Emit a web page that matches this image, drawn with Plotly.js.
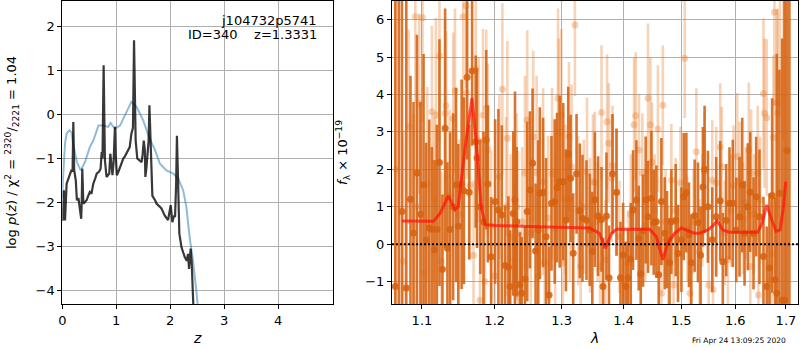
<!DOCTYPE html>
<html><head><meta charset="utf-8">
<script src="https://cdn.plot.ly/plotly-3.0.1.min.js"></script>
<style>html,body{margin:0;padding:0;background:#fff}#chart{width:800px;height:350px}</style>
</head><body><div id="chart"></div>
<script>
// ---- left panel: log p(z) ----
const zBlue = [0.0, 0.007, 0.05, 0.08, 0.13, 0.17, 0.2, 0.27, 0.34, 0.42, 0.51, 0.575, 0.67, 0.76, 0.85, 0.895, 0.94, 0.976, 1.07, 1.19, 1.28, 1.38, 1.50, 1.62, 1.72, 1.81, 1.93, 2.06, 2.15, 2.24, 2.30, 2.36, 2.43, 2.49, 2.52, 2.56];
const lpBlue = [-1.9, -1.57, -0.66, -0.43, -0.36, -0.4, -0.66, -1.08, -1.27, -1.08, -0.74, -0.59, -0.25, -0.25, -0.28, -0.19, -0.27, -0.32, -0.25, 0.06, 0.29, 0.17, -0.13, -0.55, -0.81, -1.12, -1.27, -1.34, -1.46, -1.72, -2.10, -2.78, -3.39, -4.07, -4.38, -5.0];

const zDark = [0.0, 0.007, 0.03, 0.05, 0.08, 0.14, 0.17, 0.19, 0.204, 0.22, 0.25, 0.27, 0.30, 0.32, 0.35, 0.36, 0.37, 0.39, 0.42, 0.45, 0.48, 0.51, 0.54, 0.575, 0.61, 0.64, 0.68, 0.71, 0.73, 0.745, 0.766, 0.78, 0.79, 0.82, 0.85, 0.87, 0.89, 0.91, 0.93, 0.95, 0.96, 0.976, 0.99, 1.01, 1.04, 1.07, 1.10, 1.13, 1.16, 1.19, 1.22, 1.25, 1.28, 1.31, 1.33, 1.35, 1.36, 1.39, 1.43, 1.47, 1.49, 1.51, 1.53, 1.54, 1.56, 1.58, 1.60, 1.615, 1.63, 1.645, 1.67, 1.72, 1.75, 1.81, 1.84, 1.90, 1.96, 2.01, 2.04, 2.07, 2.09, 2.11, 2.125, 2.14, 2.17, 2.21, 2.27, 2.31, 2.33, 2.35, 2.38, 2.40, 2.42, 2.44, 2.45];
const lpDark = [-2.4, -2.41, -1.72, -2.41, -1.57, -1.34, -1.26, -1.3, -0.17, -1.26, -1.5, -1.95, -1.9, -2.1, -2.37, -2.0, -1.23, -2.03, -2.0, -1.95, -1.85, -1.76, -1.8, -1.57, -1.45, -1.34, -1.3, -1.23, -0.85, -1.0, 1.12, -0.5, -1.04, -1.42, -1.38, -1.34, -0.89, -1.2, -1.38, -1.1, -0.89, -0.28, -0.9, -1.38, -1.3, -1.19, -1.1, -1.0, -0.95, -0.89, -0.8, -0.74, -0.44, -0.3, 1.69, -0.2, -0.59, -1.0, -1.05, -1.08, -0.9, -0.59, -0.8, -1.42, -1.2, -0.97, -0.6, 0.21, -0.5, -1.26, -1.85, -1.95, -2.03, -2.1, -2.14, -2.3, -2.4, -2.06, -2.45, -2.3, -2.33, -1.6, -0.48, -1.2, -2.71, -3.02, -3.24, -3.33, -3.17, -3.51, -3.05, -3.40, -3.9, -4.4, -5.0];

// ---- right panel: spectrum ----
const lamD = [1.0655, 1.0700, 1.0740, 1.0796, 1.0850, 1.0890, 1.0934, 1.0980, 1.1021, 1.1056, 1.1096, 1.1131, 1.1166, 1.1198, 1.1233, 1.1273, 1.1309, 1.1340, 1.1377, 1.1418, 1.1458, 1.1489, 1.1535, 1.1566, 1.1611, 1.1639, 1.1680, 1.1731, 1.1749, 1.1796, 1.1840, 1.1879, 1.1902, 1.1949, 1.2006, 1.2053, 1.2102, 1.2150, 1.2198, 1.2222, 1.2270, 1.2295, 1.2320, 1.2368, 1.2393, 1.2442, 1.2476, 1.2516, 1.2556, 1.2601, 1.2640, 1.2665, 1.2715, 1.2760, 1.2806, 1.2843, 1.2893, 1.2929, 1.2970, 1.3025, 1.3067, 1.3103, 1.3140, 1.3181, 1.3234, 1.3286, 1.3328, 1.3392, 1.3444, 1.3486, 1.3527, 1.3579, 1.3635, 1.3660, 1.3716, 1.3758, 1.3816, 1.3882, 1.3948, 1.3992, 1.4037, 1.4075, 1.4120, 1.4159, 1.4216, 1.4255, 1.4290, 1.4329, 1.4375, 1.4415, 1.4473, 1.4513, 1.4560, 1.4600, 1.4647, 1.4705, 1.4746, 1.4790, 1.4823, 1.4900, 1.4941, 1.5002, 1.5043, 1.5091, 1.5138, 1.5181, 1.5242, 1.5302, 1.5350, 1.5393, 1.5424, 1.5485, 1.5566, 1.5640, 1.5715, 1.5763, 1.5828, 1.5890, 1.5953, 1.6019, 1.6082, 1.6134, 1.6179, 1.6242, 1.6289, 1.6353, 1.6405, 1.6470, 1.6549, 1.6614, 1.6668, 1.6722, 1.6782, 1.6814, 1.6868, 1.6923, 1.6970, 1.7020, 1.7070];
const fD = [-1.13, -1.9, 0.87, -1.17, 1.2, 0.3, 1.9, 0.8, 1.58, 0.11, 0.43, 0.4, -0.15, 0.39, 2.18, -0.67, 3.1, -0.11, 0.39, 1.0, 1.58, 0.48, 1.6, 1.43, 4.46, 1.39, 4.63, 2.74, 2.3, 1.0, 0.6, 2.79, 1.61, -0.34, 1.14, 0.91, 0.78, -0.57, -0.62, -1.13, 0.82, 1.18, 0.6, -1.08, -1.31, -0.93, 0.87, 1.45, 2.16, -0.18, 0.38, 1.36, 1.38, 0.2, -1.36, 1.09, 1.14, 1.51, 1.67, 1.67, 0.64, 2.41, 1.76, -0.24, 1.88, 0.89, 0.69, 0.64, 0.38, -0.2, 1.19, 0.75, 0.66, -1.13, 0.75, -0.9, 1.88, 1.39, -0.9, -0.29, -1.13, -0.9, -0.4, 0.91, 1.18, 0.16, -0.8, 0.36, 1.18, 0.73, 1.23, 0.58, 0.6, -0.82, 1.14, 0.29, 0.12, -0.5, 0.6, 0.64, -0.25, 0.12, 1.27, 1.38, 0.25, -0.5, 0.76, 0.58, -0.3, 1.53, 2.0, 1.0, 0.12, 0.73, 1.16, -0.47, 0.64, 1.09, 1.09, 0.38, 0.73, 1.58, 0.29, 1.0, 1.39, 0.29, 1.27, 0.73, -0.33, -1.13, -0.64, 1.3, -0.95, -1.31, 1.36, -1.5, -1.5, 2.5, 6.6];
const eD = [9, 9, 6, 8, 3.3, 3.5, 3.7, 3.0, 3.5, 2.6, 2.9, 2.2, 2.4, 2.8, 3.3, 2.0, 3.2, 2.3, 2.6, 2.5, 2.6, 2.2, 2.8, 2.5, 2.2, 1.8, 2.0, 2.3, 2.4, 1.8, 2.4, 2.4, 2.1, 1.6, 2.2, 2.7, 2.4, 1.6, 1.9, 1.5, 2.2, 2.9, 2.0, 1.4, 1.5, 1.4, 2.4, 2.1, 2.0, 1.8, 2.4, 2.3, 2.0, 2.1, 1.3, 1.8, 2.2, 2.0, 2.3, 2.1, 1.9, 1.8, 1.7, 1.6, 1.6, 1.8, 1.7, 1.6, 1.5, 1.6, 1.8, 1.6, 1.4, 1.3, 1.7, 1.4, 1.6, 1.7, 1.5, 1.4, 1.2, 1.3, 1.5, 1.6, 1.6, 1.4, 1.2, 1.5, 1.7, 1.5, 1.8, 1.4, 1.5, 1.3, 1.7, 1.5, 1.3, 1.2, 1.4, 1.5, 1.3, 1.4, 1.7, 1.6, 1.4, 1.3, 1.5, 1.6, 1.3, 1.6, 1.7, 1.5, 1.4, 1.6, 1.6, 1.3, 1.5, 1.5, 1.7, 1.4, 1.6, 1.8, 1.4, 1.7, 1.6, 1.5, 1.6, 1.8, 1.6, 1.6, 2.0, 2.6, 2.2, 6.4, 3.3, 7, 9, 9, 9];

const lamL = [1.0665, 1.0760, 1.0826, 1.0890, 1.0913, 1.0934, 1.0965, 1.1008, 1.1021, 1.1070, 1.1132, 1.1160, 1.1185, 1.1233, 1.1260, 1.1309, 1.1323, 1.1370, 1.1420, 1.1443, 1.1500, 1.1556, 1.1594, 1.1603, 1.1648, 1.1700, 1.1731, 1.1772, 1.1790, 1.1833, 1.1860, 1.1879, 1.1902, 1.1950, 1.2000, 1.2068, 1.2111, 1.2164, 1.2183, 1.2230, 1.2290, 1.2320, 1.2340, 1.2400, 1.2442, 1.2476, 1.2530, 1.2566, 1.2617, 1.2640, 1.2715, 1.2740, 1.2790, 1.2852, 1.2900, 1.2944, 1.2955, 1.2996, 1.3020, 1.3060, 1.3114, 1.3129, 1.3156, 1.3208, 1.3260, 1.3300, 1.3350, 1.3401, 1.3450, 1.3496, 1.3527, 1.3570, 1.3612, 1.3635, 1.3699, 1.3726, 1.3753, 1.3800, 1.3816, 1.3882, 1.3930, 1.4000, 1.4075, 1.4120, 1.4176, 1.4204, 1.4260, 1.4318, 1.4370, 1.4415, 1.4456, 1.4484, 1.4530, 1.4586, 1.4647, 1.4673, 1.4720, 1.4770, 1.4823, 1.4863, 1.4900, 1.4985, 1.5062, 1.5110, 1.5156, 1.5220, 1.5273, 1.5330, 1.5380, 1.5424, 1.5500, 1.5566, 1.5580, 1.5640, 1.5715, 1.5744, 1.5800, 1.5860, 1.5920, 1.5966, 1.6037, 1.6082, 1.6150, 1.6200, 1.6261, 1.6290, 1.6307, 1.6360, 1.6436, 1.6450, 1.6482, 1.6549, 1.6569, 1.6614, 1.6670, 1.6720, 1.6748, 1.6768, 1.6814, 1.6834, 1.6880, 1.6950];
const fL = [2.0, -0.46, 3.14, 0.48, 6.08, 1.0, 3.76, 6.05, -0.77, 1.6, 3.54, 1.2, 3.45, 5.03, -0.46, 3.5, 3.7, 1.3, 3.36, 4.1, 0.8, 6.08, 6.37, 4.05, 1.58, -0.3, 4.69, 2.78, -1.5, 3.45, -1.0, 3.63, 2.53, 0.5, -0.85, 1.8, 4.14, 1.0, 2.83, 0.2, -0.42, 1.0, 0.29, 0.6, 1.9, 3.32, 0.3, 2.87, 1.9, -0.85, 1.67, -0.5, 0.7, 1.88, 0.4, 3.9, 3.0, 3.45, -0.5, 1.2, 2.87, 1.2, 2.07, 5.86, 0.9, -0.6, 1.0, 1.92, 0.5, 1.67, 1.64, 0.6, -0.6, 3.52, -0.42, 3.27, 2.7, 1.76, 2.1, 1.38, 0.2, -1.05, -0.5, 0.8, 3.19, 3.43, 2.52, 1.9, 0.5, 3.9, 3.19, 2.19, 0.9, 3.08, -1.31, 3.71, 0.6, -0.38, 1.71, -1.09, 0.9, 1.64, 4.97, 0.4, -1.31, 0.6, 2.47, -0.2, 0.9, 1.94, -1.09, 1.71, -1.22, 1.64, 2.6, 2.07, 0.3, -0.42, 0.9, 1.57, 2.34, 1.67, 0.7, 1.1, 2.52, -0.6, 1.9, 0.8, 1.9, -1.36, 1.18, 4.03, 3.5, 3.38, -0.96, -0.25, 2.85, 6.2, 3.78, 3.5, 6.6, 6.8];
const eL = [6, 3.5, 2.6, 3.0, 2.3, 2.8, 2.4, 2.8, 2.2, 2.6, 2.3, 2.2, 2.6, 2.3, 2.4, 2.5, 2.0, 2.3, 2.3, 2.2, 2.0, 2.4, 2.2, 2.3, 2.0, 2.0, 2.1, 2.2, 2.0, 2.3, 1.8, 2.1, 2.3, 2.0, 2.0, 2.2, 2.3, 2.4, 2.6, 2.2, 2.0, 2.5, 2.2, 2.0, 2.6, 2.4, 2.0, 2.3, 2.6, 2.0, 2.5, 2.0, 2.2, 2.3, 2.0, 2.4, 2.5, 2.3, 2.2, 2.0, 2.0, 2.2, 2.2, 1.9, 2.0, 1.8, 1.8, 2.0, 1.8, 1.8, 1.9, 1.6, 1.5, 1.8, 1.6, 1.8, 1.6, 1.7, 1.6, 1.7, 1.5, 1.5, 1.4, 1.6, 1.8, 1.7, 1.5, 1.6, 1.5, 2.0, 1.8, 1.6, 1.5, 1.7, 1.5, 1.6, 1.4, 1.4, 1.5, 1.4, 1.4, 1.5, 1.6, 1.4, 1.4, 1.4, 1.7, 1.4, 1.5, 1.6, 1.4, 1.6, 1.5, 1.5, 1.7, 1.6, 1.4, 1.5, 1.5, 1.6, 1.7, 1.6, 1.5, 1.5, 1.8, 1.6, 1.7, 1.6, 1.8, 1.6, 1.7, 2.0, 2.0, 2.1, 2.0, 2.2, 2.2, 2.5, 2.5, 2.8, 3, 4];

const lamModel = [1.074, 1.1153, 1.1242, 1.1353, 1.1443, 1.1488, 1.1578, 1.1678, 1.1747, 1.1808, 1.1864, 1.2006, 1.2500, 1.3000, 1.3444, 1.3600, 1.3697, 1.3800, 1.3882, 1.4445, 1.4560, 1.4673, 1.4760, 1.4882, 1.5002, 1.5242, 1.5330, 1.5485, 1.5576, 1.5658, 1.5763, 1.5890, 1.6436, 1.6522, 1.6614, 1.6702, 1.6803, 1.6882, 1.6949, 1.6996];
const fModel = [0.62, 0.61, 0.83, 1.29, 0.92, 1.0, 2.52, 3.9, 2.52, 1.0, 0.52, 0.50, 0.47, 0.45, 0.43, 0.29, -0.11, 0.29, 0.40, 0.40, 0.20, -0.42, 0.03, 0.29, 0.43, 0.29, 0.29, 0.38, 0.49, 0.62, 0.38, 0.32, 0.32, 0.56, 1.05, 0.69, 0.34, 0.38, 1.0, 1.67];

const zTicks = [0, 1, 2, 3, 4];
const lamTicks = [1.1, 1.2, 1.3, 1.4, 1.5, 1.6, 1.7];
const lamTickText = ['1.1', '1.2', '1.3', '1.4', '1.5', '1.6', '1.7'];

const DARK = 'rgba(214,98,16,0.88)';
const LIGHT = 'rgba(230,120,40,0.33)';

const traces = [
  {x: zBlue, y: lpBlue, xaxis: 'x', yaxis: 'y', mode: 'lines', line: {color: 'rgba(31,119,180,0.5)', width: 2}, hoverinfo: 'skip'},
  {x: zDark, y: lpDark, xaxis: 'x', yaxis: 'y', mode: 'lines', line: {color: 'rgba(0,0,0,0.78)', width: 2.2}, hoverinfo: 'skip'},
  {x: lamL, y: fL, xaxis: 'x2', yaxis: 'y2', mode: 'markers',
   marker: {color: LIGHT, size: 7}, error_y: {type: 'data', array: eL, color: LIGHT, thickness: 2.6, width: 0}},
  {x: lamD, y: fD, xaxis: 'x2', yaxis: 'y2', mode: 'markers',
   marker: {color: DARK, size: 7}, error_y: {type: 'data', array: eD, color: DARK, thickness: 2.6, width: 0}},
  {x: lamModel, y: fModel, xaxis: 'x2', yaxis: 'y2', mode: 'lines', line: {color: 'rgba(255,20,10,0.72)', width: 3}},
  {x: [1.0613, 1.7255], y: [0, 0], xaxis: 'x2', yaxis: 'y2', mode: 'lines', line: {color: 'black', width: 2, dash: '2px,2px'}}
];

const axCommon = {
  showgrid: true, gridcolor: '#b0b0b0', gridwidth: 1,
  showline: true, mirror: true, linecolor: 'black', linewidth: 1,
  ticks: 'outside', ticklen: 4, tickcolor: 'black', zeroline: false,
  tickfont: {size: 13, color: 'black'}
};

const layout = {
  width: 800, height: 350,
  margin: {l: 0, r: 0, t: 1, b: 46},
  paper_bgcolor: 'white', plot_bgcolor: 'white',
  showlegend: false,
  font: {family: 'DejaVu Sans', size: 13, color: 'black'},
  xaxis: Object.assign({}, axCommon, {domain: [0.0779, 0.4163], range: [0, 5.02], tickvals: zTicks, anchor: 'y',
    title: {text: '<i>z</i>', standoff: 6, font: {size: 14}}}),
  yaxis: Object.assign({}, axCommon, {domain: [0, 1], range: [-4.31, 2.585], dtick: 1, anchor: 'x',
    title: {text: 'log <i>p</i>(<i>z</i>) / χ<sup>2</sup> = <sup>2320</sup>/<sub>2221</sub> = 1.04', standoff: 15, font: {size: 13}}}),
  xaxis2: Object.assign({}, axCommon, {domain: [0.49, 0.998], type: 'log', range: [Math.log10(1.0613), Math.log10(1.7255)],
    tickvals: lamTicks, ticktext: lamTickText, anchor: 'y2',
    title: {text: '<i>λ</i>', standoff: 6, font: {size: 14}}}),
  yaxis2: Object.assign({}, axCommon, {domain: [0, 1], range: [-1.6, 6.5], dtick: 1, anchor: 'x2',
    title: {text: '<i>f</i><sub>λ</sub> × 10<sup>−19</sup>', standoff: 14, font: {size: 13}}}),
  annotations: [
    {text: 'j104732p5741', xref: 'x domain', yref: 'y domain', x: 0.948, y: 0.937, xanchor: 'right', yanchor: 'middle', showarrow: false, font: {size: 13}},
    {text: 'ID=340&nbsp;&nbsp;&nbsp;&nbsp;z=1.3331', xref: 'x domain', yref: 'y domain', x: 0.948, y: 0.888, xanchor: 'right', yanchor: 'middle', showarrow: false, font: {size: 13}},
    {text: 'Fri Apr 24 13:09:25 2020', xref: 'paper', yref: 'paper', x: 0.985, y: -0.119, xanchor: 'right', yanchor: 'middle', showarrow: false, font: {size: 7.5}}
  ]
};

Plotly.newPlot('chart', traces, layout, {displayModeBar: false, staticPlot: true});
</script>
</body></html>
